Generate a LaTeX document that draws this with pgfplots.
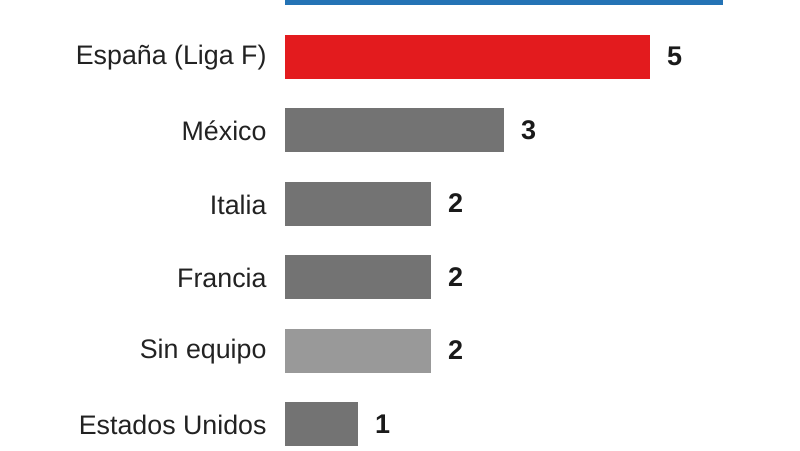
\documentclass[border=0pt]{standalone}
\usepackage{pgfplots}
\pgfplotsset{compat=1.18}
\usepackage{fontspec}
\setmainfont{Liberation Sans}

\definecolor{barblue}{HTML}{2473B5}
\definecolor{barred}{HTML}{E31B1E}
\definecolor{bargray}{HTML}{737373}
\definecolor{barlight}{HTML}{999999}
\definecolor{labeltext}{HTML}{222222}
\definecolor{numtext}{HTML}{1A1A1A}

\begin{document}
\begin{tikzpicture}[x=1pt,y=1pt]
\useasboundingbox (0,0) rectangle (800,450);
\clip (0,0) rectangle (800,450);
\begin{axis}[
    at={(285pt,-10.75pt)}, anchor=south west,
    scale only axis, width=511pt, height=514.5pt,
    xbar, bar width=44pt, bar shift=0pt,
    xmin=0, xmax=7, ymin=-0.5, ymax=6.5,
    axis line style={draw=none},
    xtick=\empty,
    ytick={0,1,2,3,4,5},
    yticklabels={Estados Unidos,Sin equipo,Francia,Italia,México,España (Liga F)},
    ytick style={draw=none},
    yticklabel style={font=\fontsize{26.8}{28}\selectfont, text=labeltext,
        anchor=east, inner sep=0pt, xshift=-14pt, yshift=-1pt},
    /pgf/number format/assume math mode=true,
    nodes near coords align={horizontal},
    every node near coord/.append style={font=\fontsize{27}{28}\selectfont\bfseries,
        text=numtext, anchor=west, inner sep=0pt, xshift=17pt},
    clip=false,
]
% top bar, cut off by the frame, its label lies outside
\addplot[fill=barblue, draw=none] coordinates {(6,6)};
\addplot[fill=barred, draw=none, nodes near coords] coordinates {(5,5)};
\addplot[fill=bargray, draw=none, nodes near coords] coordinates {(3,4)};
\addplot[fill=bargray, draw=none, nodes near coords] coordinates {(2,3)};
\addplot[fill=bargray, draw=none, nodes near coords] coordinates {(2,2)};
\addplot[fill=barlight, draw=none, nodes near coords] coordinates {(2,1)};
\addplot[fill=bargray, draw=none, nodes near coords] coordinates {(1,0)};
\end{axis}
\end{tikzpicture}
\end{document}
